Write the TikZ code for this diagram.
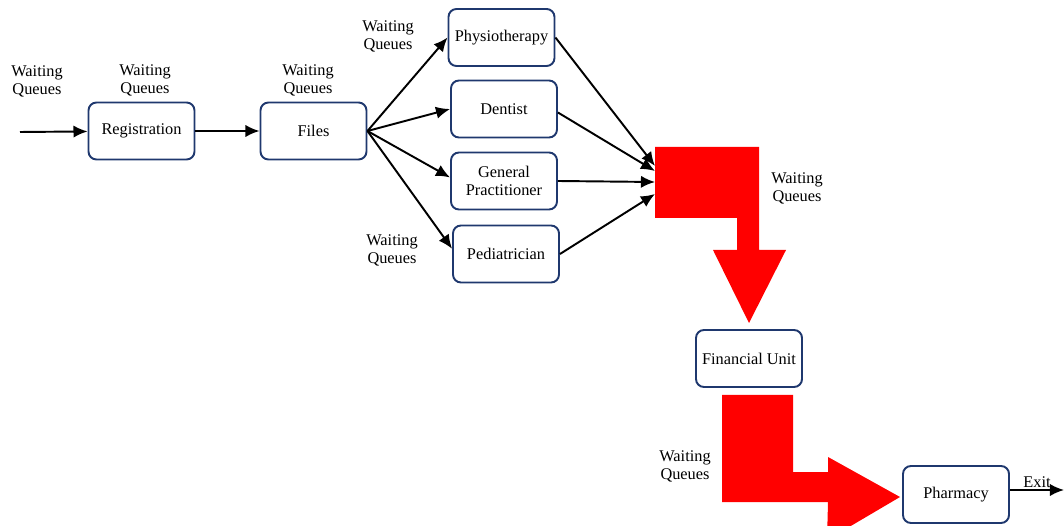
\documentclass[tikz,border=0pt]{standalone}
\usepackage{fontspec}
\setmainfont{Liberation Serif}
\usetikzlibrary{arrows.meta}
\definecolor{boxBlue}{RGB}{31,56,110}

\begin{document}
\begin{tikzpicture}
[x=0.02cm,y=-0.02cm,
 unitDecorate/.style={shape=rectangle,rounded corners=4.5pt,draw=boxBlue,line width=1.1pt,%
   minimum width=2.12cm,minimum height=1.14cm,inner sep=1pt,align=center,%
   font=\rmfamily\fontsize{9.3}{10.2}\selectfont},%
 labelDecorate/.style={align=center,inner sep=0pt,font=\rmfamily\fontsize{9.3}{10.2}\selectfont},%
 lineDecorate/.style={-{Latex[length=8pt,width=7pt]},line width=1.1pt},%
 blockDecorate/.style={fill=red,draw=none}]
\useasboundingbox (0,0) rectangle (1064,526);
%% units or vertices
\node (reg) at (141.5,131) [unitDecorate] {Registration};
\node (files) at (313.5,131) [unitDecorate] {Files};
\node (physio) at (501.5,37.5) [unitDecorate] {Physiotherapy};
\node (dentist) at (504,109) [unitDecorate] {Dentist};
\node (gp) at (504,181) [unitDecorate] {General\\Practitioner};
\node (ped) at (506,254) [unitDecorate] {Pediatrician};
\node (fin) at (749,358.5) [unitDecorate] {Financial Unit};
\node (pharm) at (956,494.5) [unitDecorate] {Pharmacy};
%% waiting queue labels
\node (wq0) at (37,81) [labelDecorate] {Waiting\\Queues};
\node (wq1) at (145,80) [labelDecorate] {Waiting\\Queues};
\node (wq2) at (308,80) [labelDecorate] {Waiting\\Queues};
\node (wq3) at (388,36) [labelDecorate] {Waiting\\Queues};
\node (wq4) at (392,250) [labelDecorate] {Waiting\\Queues};
\node (wq5) at (797,188) [labelDecorate] {Waiting\\Queues};
\node (wq6) at (685,466) [labelDecorate] {Waiting\\Queues};
\node (exitlabel) at (1037,482) [labelDecorate] {Exit};
%% big red arrows
\fill[blockDecorate] (655,147) -- (759,147) -- (759,250) -- (786,250) -- (749,323)
  -- (713,250) -- (737,250) -- (737,218) -- (655,218) -- cycle;
\fill[blockDecorate] (722,395) -- (793,395) -- (793,472) -- (828,472) -- (828,457)
  -- (900,497) -- (827,540) -- (828,502) -- (722,502) -- cycle;
%% free ends
\coordinate (entry) at (20,132);
\coordinate (in1) at (655,166);
\coordinate (in2) at (655,171);
\coordinate (in3) at (655,182);
\coordinate (in4) at (655,194);
\coordinate (out) at (1064,490);
%% edges or lines
\path
(entry) edge[lineDecorate] (reg)
(reg) edge[lineDecorate] (files)
(files.east) edge[lineDecorate] (physio.west)
(files.east) edge[lineDecorate] (dentist.west)
(files.east) edge[lineDecorate] ([yshift=2pt]gp.west)
(files.east) edge[lineDecorate] ([yshift=3pt]ped.west)
(physio.east) edge[lineDecorate] (in1)
([yshift=-2pt]dentist.east) edge[lineDecorate] (in2)
(gp.east) edge[lineDecorate] (in3)
(ped.east) edge[lineDecorate] (in4)
(pharm.east |- out) edge[lineDecorate] (out);
\end{tikzpicture}
\end{document}
